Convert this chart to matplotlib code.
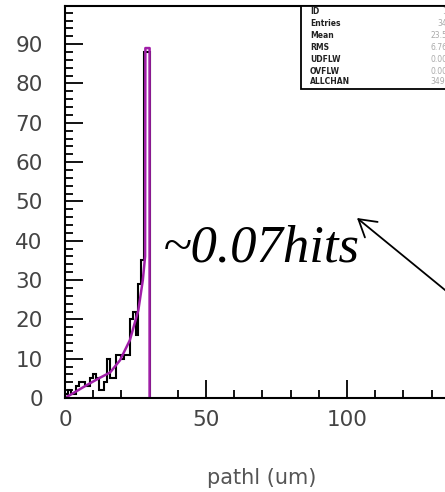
import numpy as np
from matplotlib import pyplot as plt
from matplotlib.patches import Rectangle
from matplotlib.ticker import MultipleLocator

W, H = 445, 492

# histogram of path length (um), 1 um bins
bin_edges = list(range(0, 31))
counts = [1, 2, 1, 1, 3, 4, 4, 3, 3, 5,
          6, 5, 2, 2, 4, 10, 5, 5, 11, 11,
          10, 11, 11, 20, 22, 16, 29, 35, 88, 88]

# fitted curve (magenta)
fit_x = [0, 4, 8, 12, 16, 19.5, 23, 26, 27.6, 28.4, 28.5, 30.0, 30.0]
fit_y = [0, 1.7, 3.4, 5.0, 6.5, 9.6, 14.7, 22.3, 30, 36, 89, 89, 0]

x_ticks = [0, 50, 100, 150, 200]
x_ticklabels = ["0", "50", "100", "", ""]   # 150, 200 fall off the picture

stat_names = ["ID", "Entries", "Mean", "RMS", "UDFLW", "OVFLW", "ALLCHAN"]
stat_vals = ["10", "349", "23.53", "6.762", "0.000", "0.000", "349.0"]

fig = plt.figure(figsize=(W / 100, H / 100), dpi=100)

# axes: left spine at x=65px, bottom at y=398px, top at y=6px, 2.82 px per um
# (the frame runs on past the right edge of the picture)
x0, yb, yt = 65, 398, 6
xmax = 200
ax = fig.add_axes([x0 / W, (H - yb) / H, xmax * 2.82 / W, (yb - yt) / H])

ax.stairs(counts, bin_edges, color="black", lw=1.5)
ax.plot(fit_x, fit_y, color="#a01ea8", lw=1.8)

ax.set_xlim(0, xmax)
ax.set_ylim(0, 99.7)
ax.set_xticks(x_ticks, x_ticklabels)
ax.xaxis.set_minor_locator(MultipleLocator(10))
ax.yaxis.set_major_locator(MultipleLocator(10))
ax.yaxis.set_minor_locator(MultipleLocator(2))
ax.tick_params(which="both", direction="in", top=False, right=False,
               width=1.3, colors="black", labelcolor="#444", labelsize=15.5)
ax.tick_params(which="major", length=13)
ax.tick_params(which="minor", length=6)
ax.tick_params(axis="y", pad=16)
ax.tick_params(axis="x", pad=9)
for s in ax.spines.values():
    s.set_linewidth(1.5)

fig.text(262 / W, 1 - 478 / H, "pathl (um)", ha="center", va="center",
         fontsize=15, color="#555")

# stats box
fig.add_artist(Rectangle((301 / W, 1 - 89 / H), 0.5, 83 / H,
                         transform=fig.transFigure, fc="white", ec="black", lw=1.3))
row_y = [12, 24, 36, 47, 59, 71, 82]
for name, val, y in zip(stat_names, stat_vals, row_y):
    fig.text(310 / W, 1 - y / H, name, ha="left", va="center",
             fontsize=5.5, fontweight="bold", color="#222")
    fig.text(452 / W, 1 - y / H, val, ha="right", va="center",
             fontsize=5.5, color="#aaa")

fig.text(163 / W, 1 - 262 / H, "~0.07hits", ha="left", va="baseline",
         fontsize=38, style="italic", family="Liberation Serif")

ax.annotate("", xy=(357, H - 218), xytext=(475, H - 218 - 118 * 0.818),
            xycoords="figure pixels", textcoords="figure pixels",
            arrowprops=dict(arrowstyle="->,head_length=0.4,head_width=0.24",
                            lw=1.3, color="black", mutation_scale=30,
                            shrinkA=0, shrinkB=0))

fig.savefig("out.png", dpi=100)
